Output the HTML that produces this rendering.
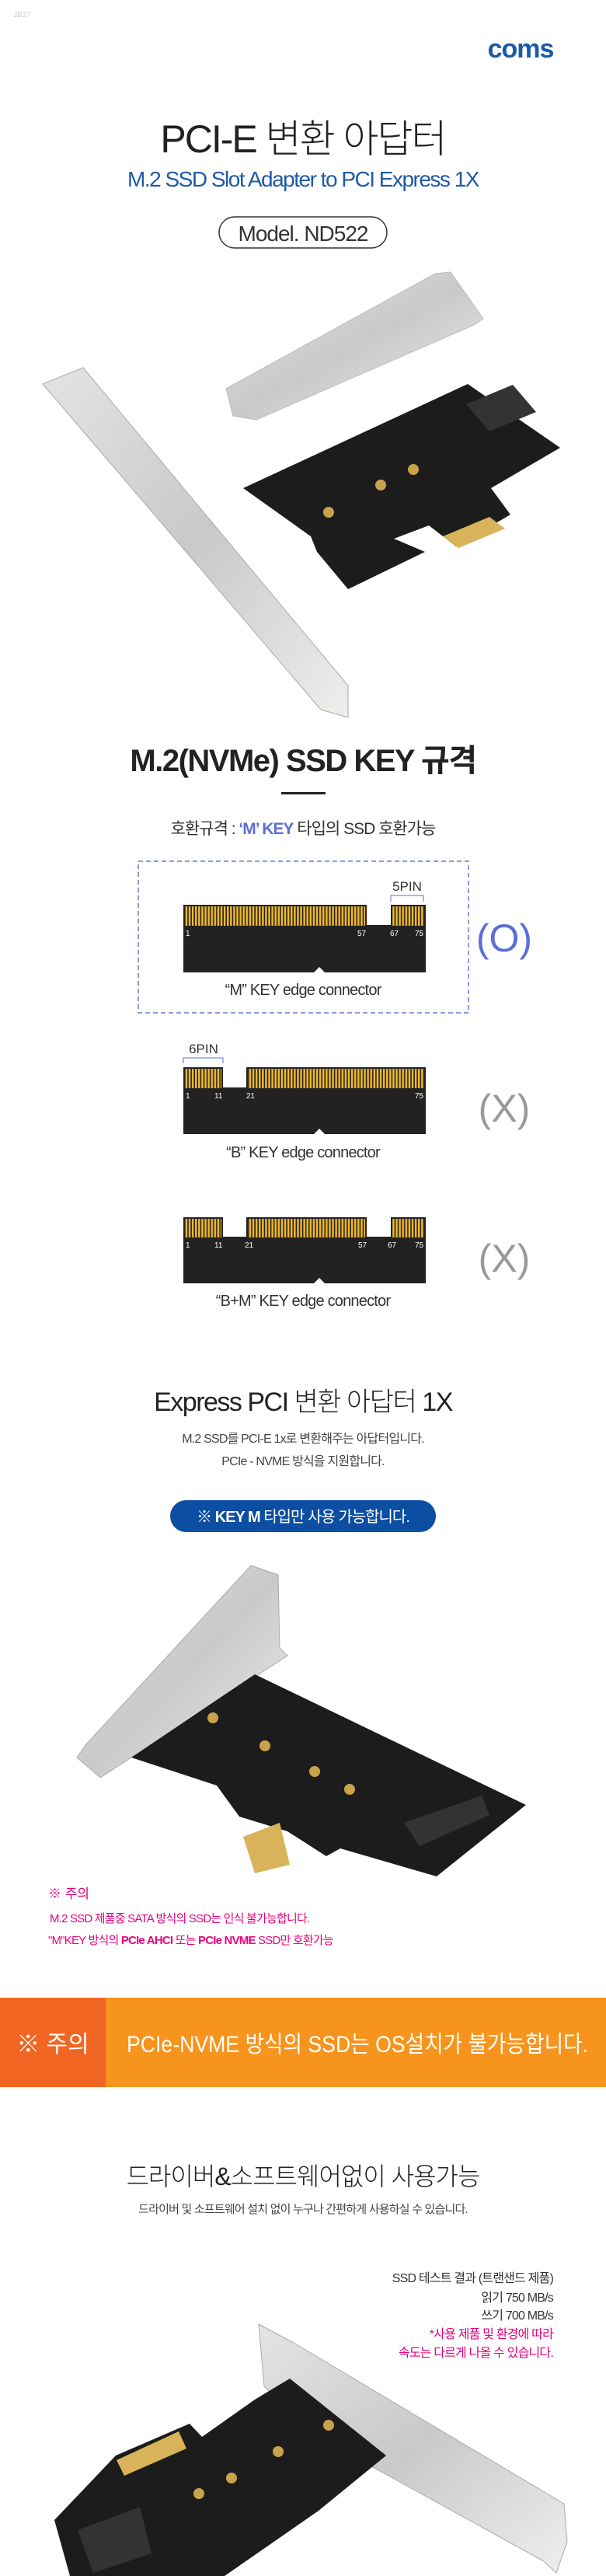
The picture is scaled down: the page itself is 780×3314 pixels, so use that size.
<!DOCTYPE html>
<html><head><meta charset="utf-8">
<style>
html,body{margin:0;padding:0;background:#fff;}
body{width:780px;height:3314px;position:relative;overflow:hidden;font-family:"Liberation Sans","Noto Sans CJK KR",sans-serif;}
svg{position:absolute;left:0;top:0;}
text{font-family:"Liberation Sans","Noto Sans CJK KR",sans-serif;}
</style></head><body>
<svg width="780" height="3314" viewBox="0 0 780 3314" xmlns="http://www.w3.org/2000/svg">
<defs>
<pattern id="pins" x="0" y="0" width="4.1" height="40" patternUnits="userSpaceOnUse">
<rect x="0" y="0" width="4.1" height="40" fill="#222"/>
<rect x="0.9" y="0" width="2.5" height="40" fill="#f0b82a"/>
</pattern>
<linearGradient id="metal" x1="0" y1="0" x2="1" y2="1">
<stop offset="0" stop-color="#e4e4e2"/><stop offset="0.5" stop-color="#c9c9c7"/><stop offset="1" stop-color="#eeeeec"/>
</linearGradient>
</defs>
<rect width="780" height="3314" fill="#fff"/>
<text x="17" y="22" font-size="10" fill="#ccc">JB27</text>
<text x="670" y="74" font-size="34" font-weight="bold" fill="#1b5aa8" text-anchor="middle" letter-spacing="-1">coms</text>

<text x="390" y="196" font-size="50" font-weight="300" fill="#222" text-anchor="middle" letter-spacing="-2">PCI-E 변환 아답터</text>
<text x="390" y="240" font-size="28" fill="#1e5aa6" text-anchor="middle" letter-spacing="-1.5">M.2 SSD Slot Adapter  to PCI Express 1X</text>
<rect x="282" y="279" width="216" height="40" rx="20" fill="none" stroke="#333" stroke-width="1.5"/>
<text x="390" y="310" font-size="28" fill="#333" text-anchor="middle" letter-spacing="-1">Model. ND522</text>

<!-- photo 1 -->
<polygon points="291,500 560,352 580,350 622,410 610,418 330,540 300,535" fill="url(#metal)" stroke="#bbb"/>
<polygon points="55,494 107,473 448,882 448,923 413,913" fill="url(#metal)" stroke="#aaa"/>
<polygon points="313,628 602,494 721,576 632,628 657,662 587,703 552,676 507,693 547,710 448,758 408,710 400,690" fill="#1c1c1c"/>
<circle cx="423" cy="659" r="7" fill="#c9a24a"/><circle cx="490" cy="624" r="7" fill="#c9a24a"/><circle cx="532" cy="604" r="7" fill="#c9a24a"/>
<polygon points="570,690 630,665 650,680 590,705" fill="#d8b35a"/>
<polygon points="600,520 660,495 690,530 630,555" fill="#333"/>

<!-- KEY section -->
<text x="390" y="992" font-size="40" font-weight="bold" fill="#222" text-anchor="middle" letter-spacing="-1.5">M.2(NVMe) SSD KEY 규격</text>
<rect x="362" y="1019" width="57" height="3" fill="#222"/>
<text x="390" y="1073" font-size="21" fill="#333" text-anchor="middle" letter-spacing="-1">호환규격 : <tspan fill="#5b6fd6" font-weight="bold">‘M’ KEY</tspan> 타입의 SSD 호환가능</text>
<rect x="178" y="1108" width="425" height="195" fill="none" stroke="#6a78d6" stroke-width="1.5" stroke-dasharray="6,4"/>

<!-- M key -->
<text x="524" y="1146" font-size="17" fill="#333" text-anchor="middle">5PIN</text>
<path d="M503,1160 V1152 H545 V1160" fill="none" stroke="#5b6fd6" stroke-width="1"/>
<rect x="236" y="1190" width="312" height="61" fill="#222"/>
<rect x="236" y="1164" width="236" height="27" fill="#222"/><rect x="238" y="1166" width="232" height="25" fill="url(#pins)"/>
<rect x="503" y="1164" width="45" height="27" fill="#222"/><rect x="505" y="1166" width="41" height="25" fill="url(#pins)"/>
<polygon points="404,1251 411,1244 418,1251" fill="#fff"/>
<g font-size="10" fill="#fff"><text x="239" y="1204">1</text><text x="460" y="1204">57</text><text x="502" y="1204">67</text><text x="534" y="1204">75</text></g>
<text x="390" y="1280" font-size="20" fill="#333" text-anchor="middle" letter-spacing="-0.8">“M” KEY edge connector</text>
<text x="649" y="1224" font-size="50" font-weight="300" fill="#5b6fd6" text-anchor="middle">(O)</text>

<!-- B key -->
<text x="262" y="1355" font-size="17" fill="#333" text-anchor="middle">6PIN</text>
<path d="M236,1368 V1361 H287 V1368" fill="none" stroke="#5b6fd6" stroke-width="1"/>
<rect x="236" y="1399" width="312" height="60" fill="#222"/>
<rect x="236" y="1373" width="51" height="27" fill="#222"/><rect x="238" y="1375" width="47" height="25" fill="url(#pins)"/>
<rect x="317" y="1373" width="231" height="27" fill="#222"/><rect x="319" y="1375" width="227" height="25" fill="url(#pins)"/>
<polygon points="404,1459 411,1452 418,1459" fill="#fff"/>
<g font-size="10" fill="#fff"><text x="239" y="1413">1</text><text x="276" y="1413">11</text><text x="317" y="1413">21</text><text x="534" y="1413">75</text></g>
<text x="390" y="1489" font-size="20" fill="#333" text-anchor="middle" letter-spacing="-0.8">“B” KEY edge connector</text>
<text x="649" y="1443" font-size="50" font-weight="300" fill="#999" text-anchor="middle">(X)</text>

<!-- B+M key -->
<rect x="236" y="1591" width="312" height="60" fill="#222"/>
<rect x="236" y="1566" width="51" height="26" fill="#222"/><rect x="238" y="1568" width="47" height="24" fill="url(#pins)"/>
<rect x="317" y="1566" width="155" height="26" fill="#222"/><rect x="319" y="1568" width="151" height="24" fill="url(#pins)"/>
<rect x="503" y="1566" width="45" height="26" fill="#222"/><rect x="505" y="1568" width="41" height="24" fill="url(#pins)"/>
<polygon points="404,1651 411,1644 418,1651" fill="#fff"/>
<g font-size="10" fill="#fff"><text x="239" y="1605">1</text><text x="276" y="1605">11</text><text x="315" y="1605">21</text><text x="461" y="1605">57</text><text x="499" y="1605">67</text><text x="534" y="1605">75</text></g>
<text x="390" y="1680" font-size="20" fill="#333" text-anchor="middle" letter-spacing="-0.8">“B+M” KEY edge connector</text>
<text x="649" y="1636" font-size="50" font-weight="300" fill="#999" text-anchor="middle">(X)</text>

<!-- Express section -->
<text x="390" y="1815" font-size="34" font-weight="300" fill="#222" text-anchor="middle" letter-spacing="-1.5">Express PCI 변환 아답터 1X</text>
<text x="390" y="1856" font-size="16" fill="#444" text-anchor="middle" letter-spacing="-0.8">M.2 SSD를 PCI-E 1x로 변환해주는 아답터입니다.</text>
<text x="390" y="1885" font-size="16" fill="#444" text-anchor="middle" letter-spacing="-0.8">PCIe - NVME 방식을 지원합니다.</text>
<rect x="219" y="1930" width="342" height="41" rx="20.5" fill="#0b4ea2"/>
<text x="390" y="1958" font-size="20" fill="#fff" text-anchor="middle" letter-spacing="-1">※ <tspan font-weight="bold">KEY M</tspan> 타입만 사용 가능합니다.</text>

<!-- photo 2 -->
<polygon points="323,2014 358,2026 360,2120 370,2130 129,2287 99,2261 110,2245" fill="url(#metal)" stroke="#aaa"/>
<polygon points="169,2261 328,2154 677,2322 562,2414 438,2378 420,2388 370,2356 308,2337 279,2297" fill="#1c1c1c"/>
<circle cx="274" cy="2210" r="7" fill="#c9a24a"/><circle cx="341" cy="2246" r="7" fill="#c9a24a"/><circle cx="405" cy="2279" r="7" fill="#c9a24a"/><circle cx="450" cy="2302" r="7" fill="#c9a24a"/>
<polygon points="313,2363 360,2345 373,2399 328,2410" fill="#d8b35a"/>
<polygon points="520,2345 620,2310 630,2335 540,2375" fill="#333"/>

<text x="62" y="2442" font-size="17" fill="#e5007e">※ 주의</text>
<text x="64" y="2473" font-size="15" fill="#e5007e" letter-spacing="-0.8">M.2 SSD 제품중 SATA 방식의 SSD는 인식 불가능합니다.</text>
<text x="62" y="2501" font-size="15" fill="#e5007e" letter-spacing="-0.8">"M"KEY 방식의 <tspan font-weight="bold">PCIe AHCI</tspan> 또는 <tspan font-weight="bold">PCIe NVME</tspan> SSD만 호환가능</text>

<!-- orange band -->
<rect x="0" y="2570" width="136" height="115" fill="#f26522"/>
<rect x="136" y="2570" width="644" height="115" fill="#f7941d"/>
<text x="68" y="2640" font-size="30" fill="#fff" text-anchor="middle">※ 주의</text>
<text x="163" y="2640" font-size="30" fill="#fff" textLength="594" lengthAdjust="spacingAndGlyphs">PCIe-NVME 방식의 SSD는 OS설치가 불가능합니다.</text>

<!-- driver section -->
<text x="390" y="2811" font-size="32" font-weight="300" fill="#222" text-anchor="middle" letter-spacing="-1">드라이버&amp;소프트웨어없이 사용가능</text>
<text x="390" y="2847" font-size="15" fill="#444" text-anchor="middle" letter-spacing="-0.8">드라이버 및 소프트웨어 설치 없이 누구나 간편하게 사용하실 수 있습니다.</text>
<g font-size="16" text-anchor="end" letter-spacing="-0.8">
<text x="712" y="2936" fill="#333">SSD 테스트 결과 (트랜샌드 제품)</text>
<text x="712" y="2961" fill="#333">읽기 750 MB/s</text>
<text x="712" y="2984" fill="#333">쓰기 700 MB/s</text>
<text x="712" y="3008" fill="#e5007e">*사용 제품 및 환경에 따라</text>
<text x="712" y="3032" fill="#e5007e">속도는 다르게 나올 수 있습니다.</text>
</g>

<!-- photo 3 -->
<polygon points="333,2990 378,3014 726,3221 730,3270 716,3310 700,3295 400,3130 340,3070" fill="url(#metal)" stroke="#aaa"/>
<polygon points="328,3087 373,3060 497,3159 410,3230 289,3314 90,3314 70,3242 149,3159 244,3118 260,3135" fill="#1c1c1c"/>
<circle cx="423" cy="3120" r="7" fill="#c9a24a"/><circle cx="358" cy="3154" r="7" fill="#c9a24a"/><circle cx="298" cy="3188" r="7" fill="#c9a24a"/><circle cx="256" cy="3208" r="7" fill="#c9a24a"/>
<polygon points="150,3165 230,3128 240,3150 160,3185" fill="#d8b35a"/>
<polygon points="100,3255 180,3225 195,3285 120,3310" fill="#333"/>
</svg>
</body></html>
